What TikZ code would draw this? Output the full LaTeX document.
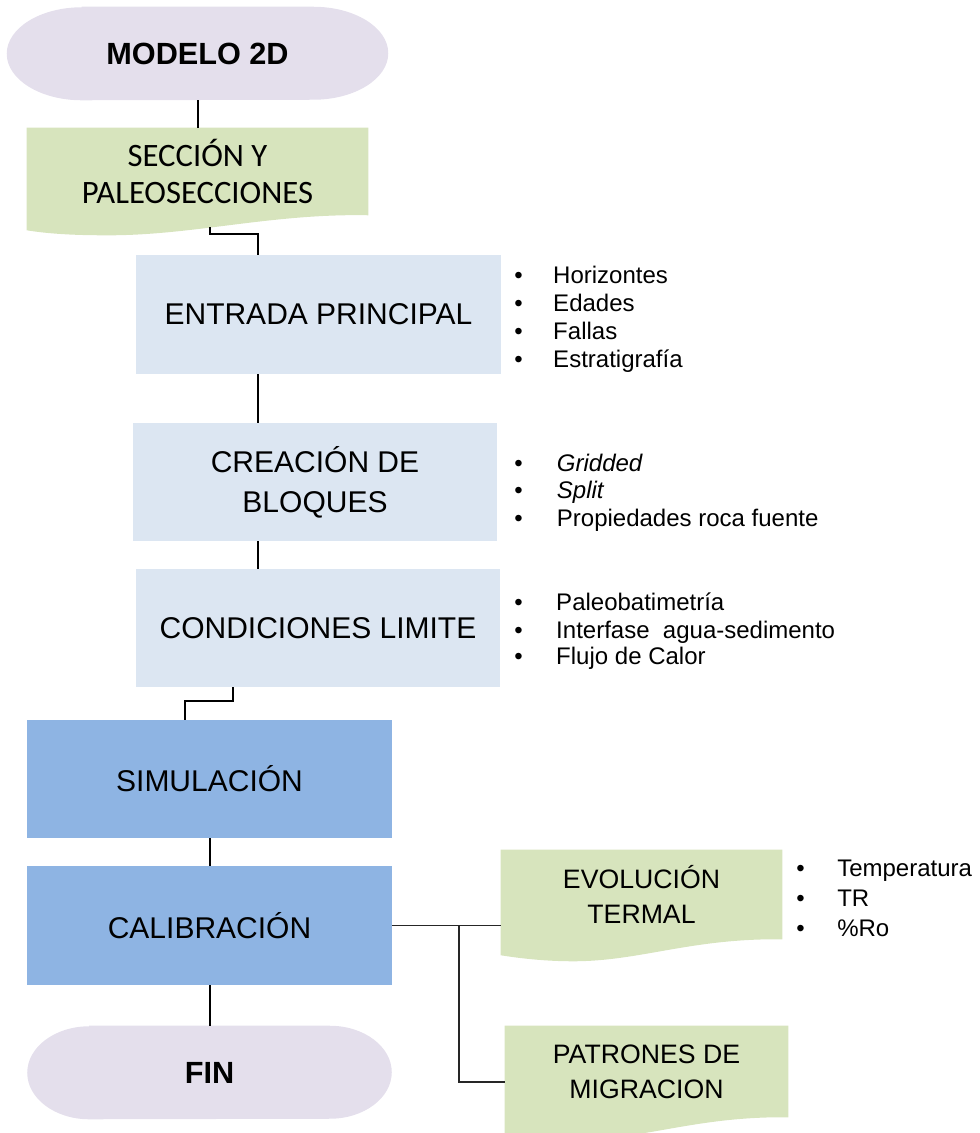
\documentclass[tikz,border=0pt]{standalone}
\usepackage{fontspec}
\setmainfont{Liberation Sans}
\newfontfamily\calibrifont{Carlito}
\usetikzlibrary{calc,backgrounds}

\definecolor{termfill}{HTML}{E4DFEC}
\definecolor{docfill}{HTML}{D7E4BD}
\definecolor{inputfill}{HTML}{DCE6F2}
\definecolor{procfill}{HTML}{8EB4E3}

\newcommand\itemdot[1]{\makebox[#1][l]{•}}

\begin{document}
\begin{tikzpicture}[x=0.75pt,y=-0.75pt,
  sized/.style 2 args={minimum width={#1*0.75pt},minimum height={#2*0.75pt}},
  boxtext/.style={rectangle,inner sep=0pt,align=center,font=\fontsize{22.5}{30}\selectfont},
  inbox/.style={boxtext,fill=inputfill},
  procbox/.style={boxtext,fill=procfill},
  docbox/.style={rectangle,inner sep=0pt,align=center,font=\fontsize{20}{26.25}\selectfont},
  term/.style={rectangle,inner sep=0pt,font=\bfseries\fontsize{23}{28}\selectfont},
  listitem/.style={anchor=west,inner sep=0pt,font=\fontsize{18}{21}\selectfont,text height=13pt,text depth=0pt},
  conn/.style={line width=1.5pt,black},
  branch/.style={line width=1pt,black!85}]
\useasboundingbox (0,0) rectangle (980,1133);

% flowchart nodes
\node[term,sized={381}{93}] (start) at (197.5,53.5) {MODELO 2D};
\node[docbox,font=\calibrifont\fontsize{24.5}{28}\selectfont,sized={341}{87}] (sec) at (197.5,171.5) {SECCIÓN Y\\PALEOSECCIONES};
\node[inbox,sized={365}{119}] (entrada) at (318.5,314.5) {ENTRADA PRINCIPAL};
\node[inbox,sized={364}{118}] (creacion) at (315,482) {CREACIÓN DE\\BLOQUES};
\node[inbox,sized={364}{118}] (cond) at (318,628) {CONDICIONES LIMITE};
\node[procbox,sized={365}{118}] (sim) at (209.5,779) {SIMULACIÓN};
\node[procbox,sized={365}{119}] (cal) at (209.5,925.5) {CALIBRACIÓN};
\node[term,sized={364}{93}] (fin) at (209.5,1072.5) {FIN};
\node[docbox,sized={281}{89}] (evo) at (641.5,894.5) {EVOLUCIÓN\\TERMAL};
\node[docbox,sized={283}{91}] (pat) at (646.5,1071.5) {PATRONES DE\\MIGRACION};

% terminal and document outlines
\begin{scope}[on background layer]
  \fill[termfill] ($(start.north west)+(75,0)$) -- ($(start.north east)+(-75,0)$)
    arc[start angle=-90,end angle=90,x radius=75,y radius=46.5]
    -- ($(start.south west)+(75,0)$)
    arc[start angle=90,end angle=270,x radius=75,y radius=46.5] -- cycle;
  \fill[termfill] ($(fin.north west)+(62,0)$) -- ($(fin.north east)+(-62,0)$)
    arc[start angle=-90,end angle=90,x radius=62,y radius=46.5]
    -- ($(fin.south west)+(62,0)$)
    arc[start angle=90,end angle=270,x radius=62,y radius=46.5] -- cycle;
  \fill[docfill] (sec.north west) -- (sec.north east) -- (sec.south east)
    .. controls ($(sec.south east)+(-98,-2)$) and ($(sec.south east)+(-178,21)$) .. ($(sec.south east)+(-265,20)$)
    .. controls ($(sec.south west)+(43,20)$) and ($(sec.south west)+(18,18)$) .. ($(sec.south west)+(0,15)$) -- cycle;
  \foreach \d in {evo,pat}{
    \fill[docfill] (\d.north west) -- (\d.north east) -- (\d.south east)
      .. controls ($(\d.south east)+(-92,-1)$) and ($(\d.south east)+(-142,22)$) .. ($(\d.south east)+(-209,22)$)
      .. controls ($(\d.south west)+(44,22)$) and ($(\d.south west)+(19,19)$) .. ($(\d.south west)+(0,16)$) -- cycle;
  }
\end{scope}

% bullet lists
\node[listitem] (ent1) at (514,275) {\itemdot{29.25pt}Horizontes};
\node[listitem] (ent2) at (514,303) {\itemdot{29.25pt}Edades};
\node[listitem] (ent3) at (514,331) {\itemdot{29.25pt}Fallas};
\node[listitem] (ent4) at (514,359) {\itemdot{29.25pt}Estratigrafía};
\node[listitem] (cre1) at (514,463) {\itemdot{32pt}\textit{Gridded}};
\node[listitem] (cre2) at (514,490) {\itemdot{32pt}\textit{Split}};
\node[listitem] (cre3) at (514,518) {\itemdot{32pt}Propiedades roca fuente};
\node[listitem] (con1) at (514,602) {\itemdot{31.5pt}Paleobatimetría};
\node[listitem] (con2) at (514,630) {\itemdot{31.5pt}Interfase\ \ agua-sedimento};
\node[listitem] (con3) at (514,656) {\itemdot{31.5pt}Flujo de Calor};
\node[listitem] (evo1) at (796,868) {\itemdot{30.75pt}Temperatura};
\node[listitem] (evo2) at (796,898) {\itemdot{30.75pt}TR};
\node[listitem] (evo3) at (796,928) {\itemdot{30.75pt}\%Ro};

% connector columns
\coordinate (secout) at (210,227);
\coordinate (colA) at (258,0);
\coordinate (colB) at (233,0);
\coordinate (colC) at (185,0);
\coordinate (colD) at (459,0);

% connectors
\draw[conn] (start.south) -- (sec.north);
\draw[conn] (secout) -- ++(0,7) -| (entrada.north -| colA);
\draw[conn] (entrada.south -| colA) -- (creacion.north -| colA);
\draw[conn] (creacion.south -| colA) -- (cond.north -| colA);
\draw[conn] (cond.south -| colB) -- ++(0,14) -| (sim.north -| colC);
\draw[conn] (sim.south) -- (cal.north);
\draw[conn] (cal.south) -- (fin.north);
\draw[branch] (cal.east) -- (cal.east -| evo.west);
\draw[branch] (cal.east -| colD) |- ($(pat.west)+(0,10.5)$);
\end{tikzpicture}
\end{document}
